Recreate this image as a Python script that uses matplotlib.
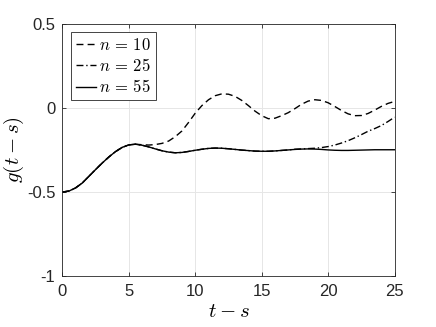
import numpy as np
import matplotlib
matplotlib.use('Agg')
import matplotlib.pyplot as plt

plt.rcParams['font.family'] = ['Liberation Sans', 'DejaVu Sans']
plt.rcParams['mathtext.fontset'] = 'cm'

# time axis, step 0.5
t = np.arange(0, 25.01, 0.5)

# n = 55 (solid)
g55 = [-0.500, -0.494, -0.475, -0.446, -0.406, -0.366, -0.327, -0.291, -0.259, -0.234,
       -0.219, -0.215, -0.221, -0.231, -0.243, -0.254, -0.262, -0.266, -0.264, -0.258,
       -0.251, -0.245, -0.240, -0.238, -0.239, -0.242, -0.246, -0.250, -0.253, -0.256,
       -0.257, -0.257, -0.255, -0.252, -0.249, -0.246, -0.244, -0.243, -0.244, -0.246,
       -0.249, -0.251, -0.252, -0.252, -0.251, -0.250, -0.249, -0.248, -0.248, -0.248,
       -0.248]

# n = 10 (dashed): leaves the n=55 curve after t = 5.5
g10_tail = [-0.218, -0.220, -0.217, -0.210, -0.196, -0.170, -0.136, -0.085, -0.030, 0.015,
            0.050, 0.074, 0.085, 0.083, 0.070, 0.046, 0.015, -0.018, -0.045, -0.063,
            -0.060, -0.045, -0.027, -0.003, 0.023, 0.042, 0.050, 0.046, 0.032, 0.010,
            -0.014, -0.034, -0.045, -0.044, -0.032, -0.012, 0.010, 0.028, 0.040]
g10 = g55[:12] + g10_tail

# n = 25 (dash-dot): leaves the n=55 curve after t = 17
g25_tail = [-0.245, -0.243, -0.241, -0.239, -0.235, -0.229, -0.220, -0.208, -0.194, -0.177,
            -0.158, -0.138, -0.122, -0.104, -0.080, -0.054]
g25 = g55[:35] + g25_tail

fig = plt.figure(figsize=(4.36, 3.27), dpi=100)
ax = fig.add_axes([0.143, 0.156, 0.762, 0.770])

ax.plot(t, g10, color='black', lw=1.0, linestyle=(0, (5, 3)), label=r'$n\,=\,10$')
ax.plot(t, g25, color='black', lw=1.0, linestyle=(0, (5, 2, 1, 2)), label=r'$n\,=\,25$')
ax.plot(t, g55, color='black', lw=1.0, label=r'$n\,=\,55$')

ax.set_xlim(0, 25)
ax.set_ylim(-1, 0.5)
ax.set_xticks([0, 5, 10, 15, 20, 25])
ax.set_yticks([-1, -0.5, 0, 0.5])
ax.set_yticklabels(['-1', '-0.5', '0', '0.5'])
ax.grid(True, color='#e6e6e6', lw=0.7)
ax.set_axisbelow(True)
for s in ax.spines.values():
    s.set_color('#262626')
    s.set_linewidth(0.6)
ax.tick_params(direction='in', length=3, width=0.6, color='#262626',
               labelsize=12, labelcolor='#262626', top=True, right=True)
ax.tick_params(axis='x', pad=6)
ax.tick_params(axis='y', pad=5)

ax.set_xlabel(r'$t-s$', fontsize=15, labelpad=2)
ax.set_ylabel(r'$g(t-s)$', fontsize=15, labelpad=1)

leg = ax.legend(loc='upper left', bbox_to_anchor=(0.026, 0.969), borderaxespad=0,
                fontsize=12, handlelength=1.2, handletextpad=0.2, labelspacing=0.25,
                borderpad=0.3, fancybox=False, framealpha=1)
leg.get_frame().set_edgecolor('#262626')
leg.get_frame().set_linewidth(0.6)

fig.savefig('out.png', dpi=100)
